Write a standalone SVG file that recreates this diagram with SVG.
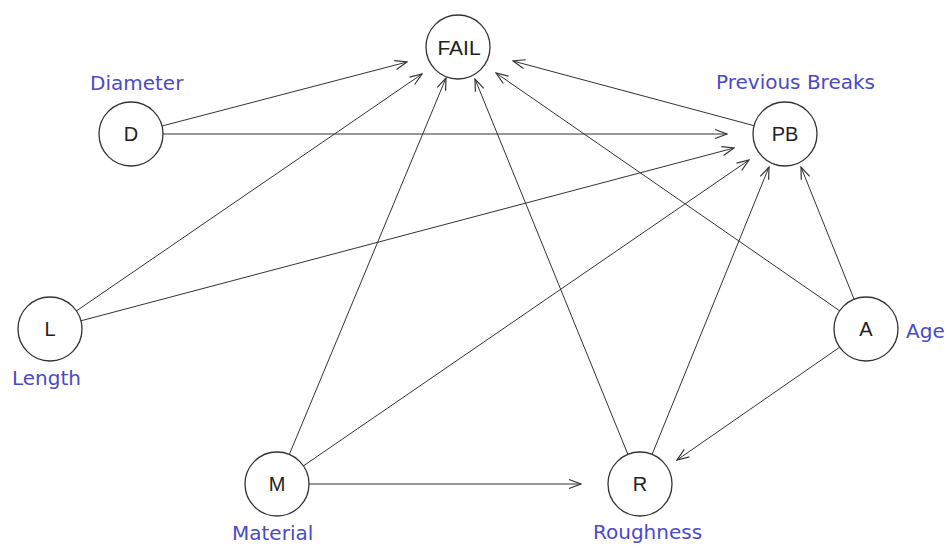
<svg xmlns="http://www.w3.org/2000/svg" width="949" height="548" viewBox="0 0 949 548">
<style>
.node circle{fill:#fff;stroke:#333;stroke-width:1.3}
.node text{font-family:"Liberation Sans",Arial,sans-serif;font-size:20px;fill:#222;text-anchor:middle}
.node text.lbl{font-family:"DejaVu Sans",sans-serif;font-size:20px;fill:#4a4ac8;text-anchor:start}
#edges line{stroke:#333;stroke-width:1;marker-end:url(#ah)}
</style>
<defs>
<marker id="ah" markerUnits="userSpaceOnUse" viewBox="-1 -6 14 12" markerWidth="14" markerHeight="12" refX="12" refY="0" orient="auto">
<path d="M0,-4.5 L12,0 L0,4.5" fill="none" stroke="#333" stroke-width="1.2"/>
</marker>
</defs>
<rect width="949" height="548" fill="#fff"/>
<g id="edges">
<line x1="162" y1="126" x2="407" y2="62"/>
<line x1="163" y1="134" x2="727" y2="134"/>
<line x1="76.4" y1="310.9" x2="422" y2="74"/>
<line x1="80.9" y1="320.8" x2="734" y2="148"/>
<line x1="289.3" y1="454.5" x2="446" y2="78"/>
<line x1="303.4" y1="465.9" x2="749" y2="160"/>
<line x1="309" y1="484" x2="581" y2="484"/>
<line x1="627.9" y1="454.4" x2="475" y2="79"/>
<line x1="652.1" y1="454.4" x2="769" y2="167"/>
<line x1="854.1" y1="299.3" x2="801" y2="167"/>
<line x1="839.7" y1="310.8" x2="496" y2="73"/>
<line x1="839.7" y1="347.2" x2="677" y2="460"/>
<line x1="754.1" y1="125.7" x2="513" y2="61"/>
</g>
<g id="FAIL" class="node"><circle cx="458" cy="47" r="32"/><text x="459" y="55" style="font-size:21px">FAIL</text></g>
<g id="D" class="node"><circle cx="131" cy="134" r="32"/><text x="131" y="141">D</text><text class="lbl" x="90" y="90">Diameter</text></g>
<g id="PB" class="node"><circle cx="785" cy="134" r="32"/><text x="785" y="141">PB</text><text class="lbl" x="716" y="89">Previous Breaks</text></g>
<g id="L" class="node"><circle cx="50" cy="329" r="32"/><text x="50" y="336">L</text><text class="lbl" x="12" y="385">Length</text></g>
<g id="A" class="node"><circle cx="866" cy="329" r="32"/><text x="866" y="336">A</text><text class="lbl" x="906" y="338">Age</text></g>
<g id="M" class="node"><circle cx="277" cy="484" r="32"/><text x="277" y="491">M</text><text class="lbl" x="232" y="540">Material</text></g>
<g id="R" class="node"><circle cx="640" cy="484" r="32"/><text x="640" y="491">R</text><text class="lbl" x="593" y="539">Roughness</text></g>
</svg>
